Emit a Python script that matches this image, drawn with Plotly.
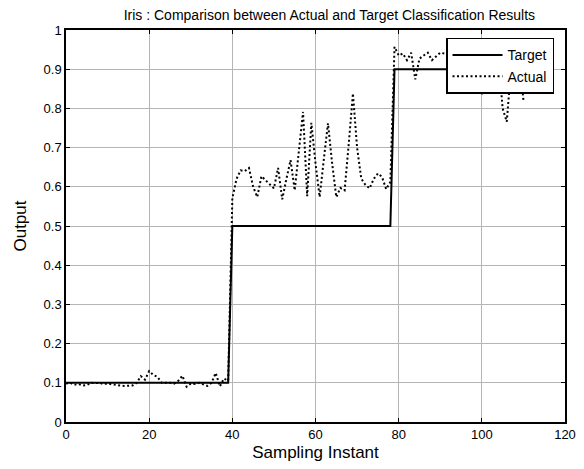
import plotly.graph_objects as go

# sampling instants
samples = list(range(0, 111))

# target class output per block
target_levels = [0.1, 0.5, 0.9]
block_lengths = [40, 39, 32]

# network output
actual_low = [
    0.098, 0.100, 0.095, 0.097, 0.093, 0.094, 0.100, 0.099, 0.100, 0.097,
    0.098, 0.096, 0.094, 0.093, 0.092, 0.093, 0.093, 0.100, 0.117, 0.108,
    0.130, 0.120, 0.115, 0.100, 0.100, 0.100, 0.098, 0.105, 0.118, 0.090,
    0.098, 0.097, 0.100, 0.095, 0.092, 0.100, 0.125, 0.091, 0.111, 0.105,
]
actual_mid = [
    0.570, 0.620, 0.642, 0.640, 0.648, 0.600, 0.574, 0.627, 0.617, 0.606,
    0.596, 0.648, 0.568, 0.620, 0.668, 0.591, 0.690, 0.791, 0.576, 0.763,
    0.660, 0.574, 0.670, 0.762, 0.660, 0.574, 0.597, 0.591, 0.710, 0.838,
    0.700, 0.621, 0.605, 0.596, 0.620, 0.634, 0.625, 0.594, 0.612,
]
actual_high = [
    0.957, 0.935, 0.940, 0.923, 0.942, 0.874, 0.927, 0.935, 0.942, 0.923,
    0.932, 0.942, 0.940, 0.935, 0.945, 0.940, 0.942, 0.930, 0.940, 0.935,
    0.930, 0.834, 0.930, 0.935, 0.940, 0.930, 0.800, 0.766, 0.900, 0.930,
    0.935, 0.821,
]

x_ticks = [0, 20, 40, 60, 80, 100, 120]
y_ticks = [0, 0.1, 0.2, 0.3, 0.4, 0.5, 0.6, 0.7, 0.8, 0.9, 1]
y_labels = ["0", "0.1", "0.2", "0.3", "0.4", "0.5", "0.6", "0.7", "0.8", "0.9", "1"]

target = []
for lvl, n in zip(target_levels, block_lengths):
    target += [lvl] * n
actual = actual_low + actual_mid + actual_high

FONT = "Liberation Sans, Arial, sans-serif"

fig = go.Figure()
fig.add_trace(go.Scatter(
    x=samples, y=target, mode="lines", name="Target",
    line=dict(color="black", width=2),
))
fig.add_trace(go.Scatter(
    x=samples, y=actual, mode="lines", name="Actual",
    line=dict(color="black", width=2, dash="2px,2.5px"),
))

axis_common = dict(
    showline=True, linecolor="black", linewidth=1.5, mirror="ticks",
    ticks="inside", ticklen=4, tickcolor="black",
    showgrid=True, gridcolor="#b5b5b5", gridwidth=1,
    zeroline=False, automargin=False,
    tickfont=dict(family=FONT, size=13, color="black"),
)

fig.update_xaxes(
    range=[0, 120], tickvals=x_ticks,
    title=dict(text="Sampling Instant", font=dict(family=FONT, size=17, color="black"), standoff=5),
    **axis_common,
)
fig.update_yaxes(
    range=[0, 1], tickvals=y_ticks, ticktext=y_labels,
    title=dict(text="Output", font=dict(family=FONT, size=17, color="black"), standoff=13),
    **axis_common,
)

fig.update_layout(
    width=584, height=469,
    margin=dict(l=66, r=19, t=30, b=47),
    paper_bgcolor="white", plot_bgcolor="white",
    title=dict(
        text="Iris : Comparison between Actual and Target Classification Results",
        font=dict(family=FONT, size=14, color="black"),
        x=0.564, xanchor="center", y=0.968, yanchor="middle",
    ),
    legend=dict(
        x=0.978, y=0.98, xanchor="right", yanchor="top",
        bgcolor="white", bordercolor="black", borderwidth=1.5,
        font=dict(family=FONT, size=14, color="black"),
        itemwidth=50, tracegroupgap=0,
    ),
    showlegend=True,
)

# drop the default page margin so the figure sits at the window corner
fig.write_html(
    "out.html",
    config={"displayModeBar": False},
    post_script="document.body.style.margin='0';",
)
